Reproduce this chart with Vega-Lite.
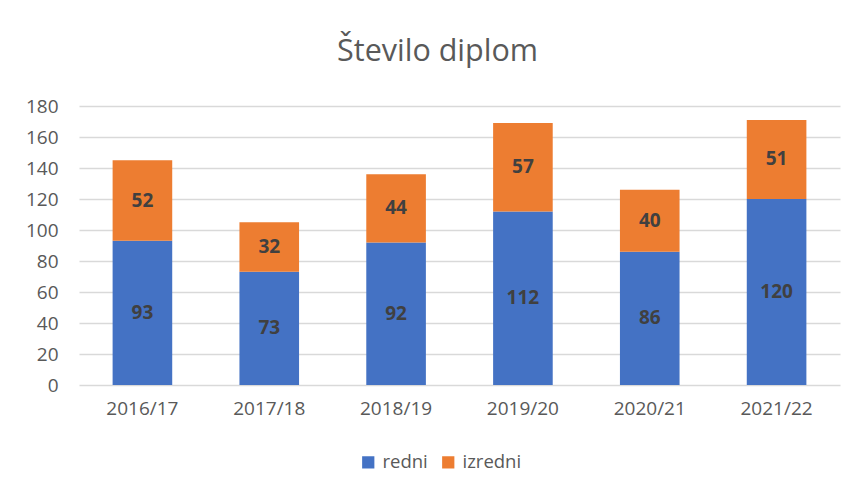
{
  "$schema": "https://vega.github.io/schema/vega-lite/v6.json",
  "autosize": "none",
  "width": 761,
  "height": 279,
  "padding": {"left": 79, "top": 106, "right": 17, "bottom": 108},
  "background": "white",
  "title": {
    "text": "Število diplom",
    "font": "Open Sans",
    "fontSize": 30.5,
    "fontWeight": "normal",
    "color": "#595959",
    "anchor": "middle",
    "dx": -22,
    "offset": 30
  },
  "data": {
    "values": [
      {"year": "2016/17", "type": "redni", "value": 93},
      {"year": "2016/17", "type": "izredni", "value": 52},
      {"year": "2017/18", "type": "redni", "value": 73},
      {"year": "2017/18", "type": "izredni", "value": 32},
      {"year": "2018/19", "type": "redni", "value": 92},
      {"year": "2018/19", "type": "izredni", "value": 44},
      {"year": "2019/20", "type": "redni", "value": 112},
      {"year": "2019/20", "type": "izredni", "value": 57},
      {"year": "2020/21", "type": "redni", "value": 86},
      {"year": "2020/21", "type": "izredni", "value": 40},
      {"year": "2021/22", "type": "redni", "value": 120},
      {"year": "2021/22", "type": "izredni", "value": 51}
    ]
  },
  "transform": [
    {"stack": "value", "groupby": ["year"], "sort": [{"field": "type", "order": "descending"}], "as": ["y0", "y1"]},
    {"calculate": "(datum.y0 + datum.y1) / 2", "as": "ymid"}
  ],
  "encoding": {
    "x": {
      "field": "year",
      "type": "nominal",
      "scale": {"paddingInner": 0.53, "paddingOuter": 0.265},
      "axis": {
        "title": null,
        "labelAngle": 0,
        "domain": false,
        "ticks": false,
        "labelFont": "Open Sans",
        "labelFontSize": 19,
        "labelColor": "#595959",
        "labelPadding": 14
      }
    }
  },
  "layer": [
    {
      "mark": {"type": "bar"},
      "encoding": {
        "y": {
          "field": "y0",
          "type": "quantitative",
          "scale": {"domain": [0, 180]},
          "axis": {
            "title": null,
            "values": [0, 20, 40, 60, 80, 100, 120, 140, 160, 180],
            "labelOverlap": false,
            "domain": false,
            "ticks": false,
            "gridColor": "#d9d9d9",
            "gridWidth": 1.5,
            "labelFont": "Open Sans",
            "labelFontSize": 19,
            "labelColor": "#595959",
            "labelPadding": 21
          }
        },
        "y2": {"field": "y1"},
        "color": {
          "field": "type",
          "type": "nominal",
          "scale": {"domain": ["redni", "izredni"], "range": ["#4472C4", "#ED7D31"]},
          "legend": {
            "title": null,
            "orient": "none",
            "direction": "horizontal",
            "legendX": 280,
            "legendY": 347,
            "symbolType": "square",
            "symbolSize": 150,
            "symbolStrokeWidth": 0,
            "labelFont": "Open Sans",
            "labelFontSize": 18.5,
            "labelColor": "#595959",
            "columnPadding": 11,
            "labelOffset": 5
          }
        }
      }
    },
    {
      "mark": {"type": "text", "font": "Open Sans", "fontSize": 19, "fontWeight": "bold", "color": "#404040", "baseline": "middle"},
      "encoding": {
        "y": {
          "field": "ymid",
          "type": "quantitative",
          "scale": {"domain": [0, 180]},
          "axis": {
            "title": null,
            "values": [0, 20, 40, 60, 80, 100, 120, 140, 160, 180],
            "labelOverlap": false,
            "domain": false,
            "ticks": false,
            "gridColor": "#d9d9d9",
            "gridWidth": 1.5,
            "labelFont": "Open Sans",
            "labelFontSize": 19,
            "labelColor": "#595959",
            "labelPadding": 21
          }
        },
        "text": {"field": "value", "type": "quantitative"}
      }
    }
  ],
  "config": {
    "view": {"stroke": null}
  }
}
